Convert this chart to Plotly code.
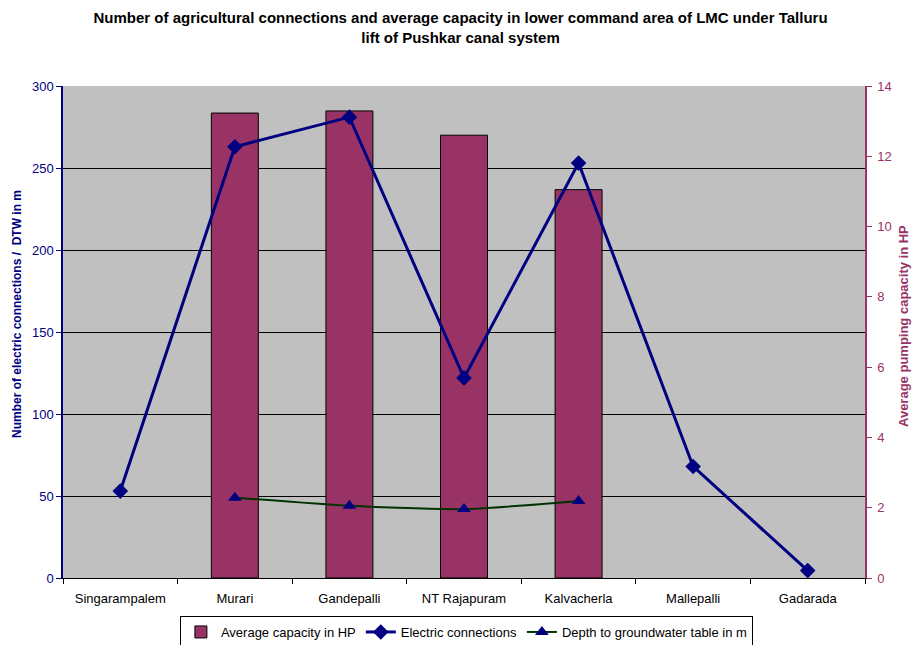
import plotly.graph_objects as go

# Villages along the lower command area
villages = ["Singarampalem", "Murari", "Gandepalli", "NT Rajapuram",
            "Kalvacherla", "Mallepalli", "Gadarada"]

# Average pumping capacity (HP) – right axis
avg_capacity_hp = [None, 13.23, 13.29, 12.6, 11.05, None, None]

# Number of electric connections – left axis
electric_connections = [53, 263, 281, 122, 253, 68, 4.5]

# Depth to groundwater table (m) – left axis
depth_to_water = [None, 49, 44, 42, 47, None, None]

FONT = "Liberation Sans, Arial, sans-serif"
NAVY = "#000080"
MAROON = "#993366"

fig = go.Figure()

# Bars sit on the base axis (right side) so the lines on the overlay draw above them
fig.add_trace(go.Bar(
    x=villages, y=avg_capacity_hp, name="Average capacity in HP",
    yaxis="y", width=0.41,
    marker=dict(color=MAROON, line=dict(color="black", width=1)),
))

fig.add_trace(go.Scatter(
    x=villages, y=electric_connections, name="Electric connections",
    yaxis="y2", mode="lines+markers",
    line=dict(color=NAVY, width=3),
    marker=dict(symbol="diamond", size=12, color=NAVY),
))

fig.add_trace(go.Scatter(
    x=villages, y=depth_to_water, name="Depth to groundwater table in m",
    yaxis="y2", mode="lines+markers",
    line=dict(color="#003300", width=2, shape="spline", smoothing=0.6),
    marker=dict(symbol="triangle-up", size=12, color=NAVY),
))

fig.update_layout(
    width=912, height=645,
    margin=dict(l=63, r=47, t=86, b=67, autoexpand=False),
    paper_bgcolor="white",
    plot_bgcolor="#C0C0C0",
    font=dict(family=FONT, size=13, color="black"),
    title=dict(
        text="Number of agricultural connections and average capacity in lower command area of LMC under Talluru<br>lift of Pushkar canal system",
        x=0.505, xanchor="center", yref="container", y=1 - 23 / 645, yanchor="middle",
        font=dict(family=FONT, size=15, color="black", weight="bold"),
    ),
    showlegend=True,
    legend=dict(
        orientation="h", x=0.503, xanchor="center",
        yref="container", y=1 - 616 / 645, yanchor="top",
        bordercolor="black", borderwidth=1, bgcolor="white",
        font=dict(family=FONT, size=13, color="black"),
        itemwidth=30, tracegroupgap=0,
    ),
    xaxis=dict(
        type="category",
        showline=True, linecolor="black", linewidth=1,
        ticks="outside", tickson="boundaries", ticklen=5, tickcolor="black",
        ticklabelstandoff=8,
        tickfont=dict(family=FONT, size=13, color="black"),
        showgrid=False, zeroline=False,
    ),
    yaxis=dict(
        range=[0, 14], dtick=2, side="right",
        showline=True, linecolor=MAROON, linewidth=1.5,
        ticks="outside", ticklen=5, tickcolor=MAROON,
        ticklabelstandoff=3,
        tickfont=dict(family=FONT, size=13, color=MAROON),
        showgrid=False, zeroline=False,
    ),
    yaxis2=dict(
        range=[0, 300], dtick=50, overlaying="y", side="left",
        showline=True, linecolor=NAVY, linewidth=1.5,
        ticks="outside", ticklen=5, tickcolor=NAVY,
        tickfont=dict(family=FONT, size=13, color=NAVY),
        showgrid=True, gridcolor="black", gridwidth=1,
        zeroline=False,
    ),
    annotations=[
        dict(text="<b>Number of electric connections /  DTW in m</b>",
             textangle=-90, xref="paper", yref="paper",
             x=(17 - 63) / 802, y=(578 - 314) / 492,
             xanchor="center", yanchor="middle", showarrow=False,
             font=dict(family=FONT, size=12, color=NAVY)),
        dict(text="<b>Average pumping capacity in HP</b>",
             textangle=-90, xref="paper", yref="paper",
             x=(903 - 63) / 802, y=(578 - 326) / 492,
             xanchor="center", yanchor="middle", showarrow=False,
             font=dict(family=FONT, size=13, color=MAROON)),
    ],
)

fig.write_html("out.html")
